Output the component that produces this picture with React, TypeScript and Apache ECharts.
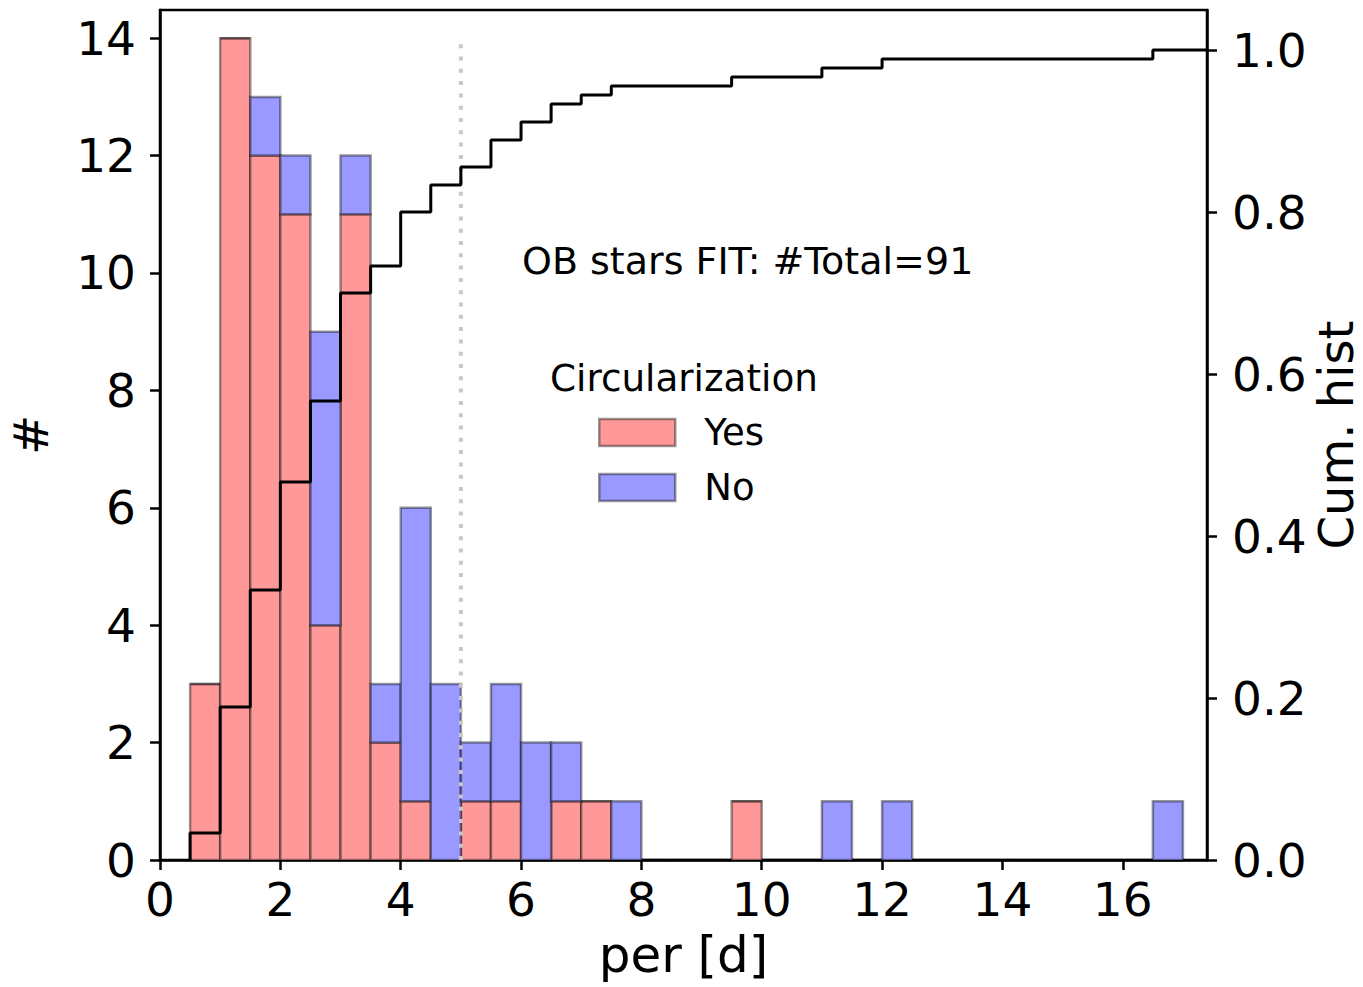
import React, { useEffect, useRef } from "react";
import * as echarts from "echarts";

// Histogram bins (lower edges, width 0.5 d) and stacked counts per class
const binLo = [
  0.5, 1.0, 1.5, 2.0, 2.5, 3.0, 3.5, 4.0, 4.5, 5.0, 5.5, 6.0, 6.5, 7.0, 7.5, 8.0,
  8.5, 9.0, 9.5, 10.0, 10.5, 11.0, 11.5, 12.0, 12.5, 13.0, 13.5, 14.0, 14.5, 15.0,
  15.5, 16.0, 16.5,
];
const binWidth = 0.5;
const yesCounts = [
  3, 14, 12, 11, 4, 11, 2, 1, 0, 1, 1, 0, 1, 1, 0, 0,
  0, 0, 1, 0, 0, 0, 0, 0, 0, 0, 0, 0, 0, 0,
  0, 0, 0,
];
const noCounts = [
  0, 0, 1, 1, 5, 1, 1, 5, 3, 1, 2, 2, 1, 0, 1, 0,
  0, 0, 0, 0, 0, 1, 0, 1, 0, 0, 0, 0, 0, 0,
  0, 0, 1,
];

// Axis ticks
const xTicks = [0, 2, 4, 6, 8, 10, 12, 14, 16];
const countTicks = [0, 2, 4, 6, 8, 10, 12, 14];
const cumTicks = [0, 0.2, 0.4, 0.6, 0.8, 1.0];

// Reference period marker and annotation
const cutPeriod = 5;
const cutTop = 13.9;
const annotation = "OB stars FIT: #Total=91";
const legendTitle = "Circularization";

const X_MAX = 17.4;
const COUNT_MAX = 14.48;
const CUM_MAX = 1.0494;

const FONT = "DejaVu Sans";
const YES_FILL = "#ff9999";
const NO_FILL = "#9999ff";
const EDGE = "rgba(0,0,0,0.4)";

function buildOption() {
  const yesData = binLo.map((lo, i) => [lo, lo + binWidth, 0, yesCounts[i]]);
  const noData = binLo.map((lo, i) => [
    lo,
    lo + binWidth,
    yesCounts[i],
    yesCounts[i] + noCounts[i],
  ]);

  // cumulative step outline, normalised to the binned total
  const total =
    yesCounts.reduce((a, b) => a + b, 0) + noCounts.reduce((a, b) => a + b, 0);
  let run = 0;
  const cumLine: number[][] = [[binLo[0], 0]];
  binLo.forEach((lo, i) => {
    run += yesCounts[i] + noCounts[i];
    const f = run / total;
    cumLine.push([lo, f], [lo + binWidth, f]);
  });
  cumLine.push([X_MAX, run / total]);

  const barRenderer = (fill: string) => (params: any, api: any) => {
    const lo = api.value(0);
    const hi = api.value(1);
    const base = api.value(2);
    const top = api.value(3);
    const p0 = api.coord([lo, top]);
    const p1 = api.coord([hi, base]);
    return {
      type: "rect",
      shape: { x: p0[0], y: p0[1], width: p1[0] - p0[0], height: p1[1] - p0[1] },
      style: { fill, stroke: EDGE, lineWidth: 2.5 },
    };
  };

  const tickLabel = { fontSize: 47, fontFamily: FONT, color: "#000" };
  const axisLine = { show: true, lineStyle: { color: "#000", width: 2.5 } };
  const tickStyle = { color: "#000", width: 2.5 };

  return {
    animation: false,
    backgroundColor: "#fff",
    grid: {
      left: 160,
      top: 10,
      width: 1047,
      height: 850,
      outerBoundsMode: "none",
      containLabel: false,
      show: true,
      borderColor: "#000",
      borderWidth: 2.5,
      backgroundColor: "transparent",
    },
    legend: {
      orient: "vertical",
      left: 598,
      top: 414,
      padding: 0,
      itemWidth: 76,
      itemHeight: 27,
      itemGap: 18,
      textStyle: {
        fontSize: 37,
        fontFamily: FONT,
        color: "#000",
        padding: [0, 0, 0, 24],
      },
      data: [
        { name: "Yes", icon: "rect", itemStyle: { color: YES_FILL, borderColor: EDGE, borderWidth: 2.5 } },
        { name: "No", icon: "rect", itemStyle: { color: NO_FILL, borderColor: EDGE, borderWidth: 2.5 } },
      ],
    },
    graphic: [
      {
        type: "text",
        x: 522,
        y: 261,
        style: {
          text: annotation,
          fontSize: 38,
          fontFamily: FONT,
          fill: "#000",
          verticalAlign: "middle",
          textVerticalAlign: "middle",
        },
      },
      {
        type: "text",
        x: 550,
        y: 378,
        style: {
          text: legendTitle,
          fontSize: 37.3,
          fontFamily: FONT,
          fill: "#000",
          verticalAlign: "middle",
          textVerticalAlign: "middle",
        },
      },
    ],
    xAxis: {
      type: "value",
      min: 0,
      max: X_MAX,
      axisLine,
      axisTick: { show: true, customValues: xTicks, length: 10, lineStyle: tickStyle },
      axisLabel: { ...tickLabel, customValues: xTicks, margin: 16 },
      splitLine: { show: false },
      name: "per [d]",
      nameLocation: "middle",
      nameGap: 70,
      nameTextStyle: { fontSize: 50, fontFamily: FONT, color: "#000" },
    },
    yAxis: [
      {
        type: "value",
        position: "left",
        min: 0,
        max: COUNT_MAX,
        axisLine,
        axisTick: { show: true, customValues: countTicks, length: 10, lineStyle: tickStyle },
        axisLabel: { ...tickLabel, customValues: countTicks, margin: 24 },
        splitLine: { show: false },
        name: "#",
        nameLocation: "middle",
        nameRotate: 90,
        nameGap: 105,
        nameTextStyle: { fontSize: 48, fontFamily: FONT, color: "#000" },
      },
      {
        type: "value",
        position: "right",
        min: 0,
        max: CUM_MAX,
        axisLine,
        axisTick: { show: true, customValues: cumTicks, length: 10, lineStyle: tickStyle },
        axisLabel: {
          ...tickLabel,
          customValues: cumTicks,
          margin: 25,
          formatter: (v: number) => v.toFixed(1),
        },
        splitLine: { show: false },
        name: "Cum. hist",
        nameLocation: "middle",
        nameRotate: 90,
        nameMoveOverlap: false,
        nameGap: 105,
        nameTextStyle: { fontSize: 48, lineHeight: 48, fontFamily: FONT, color: "#000" },
      },
    ],
    series: [
      {
        name: "Yes",
        type: "custom",
        xAxisIndex: 0,
        yAxisIndex: 0,
        itemStyle: { color: YES_FILL },
        encode: { x: [0, 1], y: [2, 3] },
        renderItem: barRenderer(YES_FILL),
        data: yesData,
        z: 2,
      },
      {
        name: "No",
        type: "custom",
        xAxisIndex: 0,
        yAxisIndex: 0,
        itemStyle: { color: NO_FILL },
        encode: { x: [0, 1], y: [2, 3] },
        renderItem: barRenderer(NO_FILL),
        data: noData,
        z: 2,
      },
      {
        name: "period marker",
        type: "line",
        xAxisIndex: 0,
        yAxisIndex: 0,
        symbol: "none",
        data: [
          [cutPeriod, 0],
          [cutPeriod, cutTop],
        ],
        lineStyle: { color: "#c8c8c8", width: 4, type: [4, 8.3], cap: "butt" },
        z: 3,
      },
      {
        name: "Cum. hist",
        type: "line",
        xAxisIndex: 0,
        yAxisIndex: 1,
        symbol: "none",
        data: cumLine,
        lineStyle: { color: "#000", width: 3 },
        z: 4,
      },
    ],
  };
}

export default function App() {
  const ref = useRef<HTMLDivElement>(null);
  useEffect(() => {
    if (!ref.current) return;
    const chart = echarts.init(ref.current, undefined, { renderer: "svg" });
    chart.setOption(buildOption() as any);
    return () => chart.dispose();
  }, []);
  return (
    <div
      ref={ref}
      style={{ position: "fixed", left: 0, top: 0, width: 1363, height: 987 }}
    />
  );
}
